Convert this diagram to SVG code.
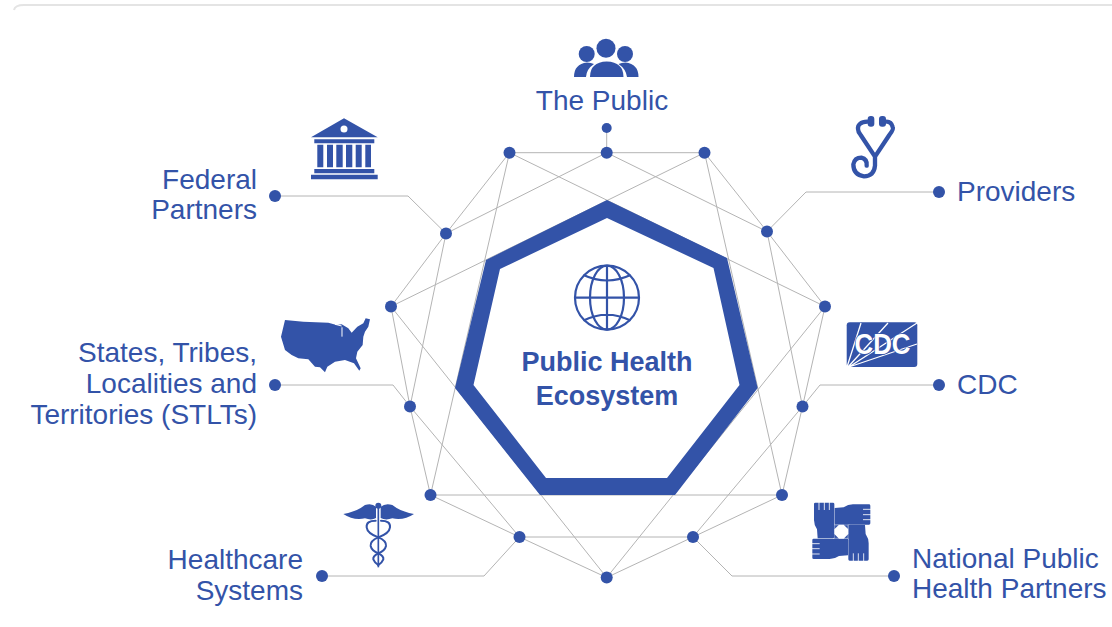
<svg xmlns="http://www.w3.org/2000/svg" width="1112" height="627" viewBox="0 0 1112 627">
<style>
text{font-family:"Liberation Sans",Arial,sans-serif;font-size:28px;fill:#3353a8}
.e{text-anchor:end}
.m{text-anchor:middle}
.b{font-weight:700;font-size:27px}
.l{stroke:#b4b4b4;stroke-width:1;fill:none}
.d{fill:#3353a8}
.f{fill:#3353a8}
.s{fill:none;stroke:#3353a8;stroke-linecap:round;stroke-linejoin:round}
</style>
<defs>
<g id="hand">
<path class="f" d="M57 42q0-4 4-4h53q4 0 4 4V104H132L118 118V145H68L66 118Q57 105 57 90Z"/>
<path d="M72 36V60M88 36V60M103 36V60" stroke="#fff" stroke-width="2.500" fill="none"/>
<path d="M119 100V146" stroke="#fff" stroke-width="1.200" fill="none"/>
</g>
</defs>
<rect width="1112" height="627" fill="#fff"/>
<path d="M14 10Q15 5 24 5H1112" fill="none" stroke="#e4e4e4" stroke-width="2"/>
<g id="connectors" class="l">
<path d="M509.5 152.7H704.5M509.5 152.7L446 233.5M509.5 152.7L430.5 495M509.5 152.7L825 306.5M606.7 152.7L446 233.5M606.7 152.7L767 231.5M704.5 152.7L391 306.5M704.5 152.7L767 231.5M704.5 152.7L782 495"/>
<path d="M446 233.5L391 306.5M446 233.5L410 406.5M767 231.5L825 306.5M767 231.5L802.5 406.5"/>
<path d="M391 306.5L410 406.5M391 306.5L606.7 577.5M825 306.5L802.5 406.5M825 306.5L606.7 577.5"/>
<path d="M410 406.5L430.5 495M410 406.5L519.5 537M802.5 406.5L782 495M802.5 406.5L693 537"/>
<path d="M430.5 495H782M430.5 495L519.5 537M782 495L693 537M519.5 537H693M519.5 537L606.7 577.5M693 537L606.7 577.5"/>
<path d="M606.7 128V152.7M939 192H806L767 231.5M275 196H408L446 233.5M939 385H820L802.5 406.5M275 385H393L410 406.5M322 576H484L519.5 537M894 576H732L693 537"/>
</g>
<g id="hub">
<path class="f" fill-rule="evenodd" d="M607 200L727 258L757.7 388L675 495H540L455 388L486 260ZM607 218L500 269L473.500 385L546 478H667L739.500 385L713.500 268Z"/>
<g fill="none" stroke="#3353a8" stroke-width="2.2">
<circle cx="607" cy="297.7" r="32"/>
<ellipse cx="607" cy="297.7" rx="17" ry="32"/>
<path d="M607 265.7V329.7M575 297.7H639M583.5 275Q607 286 630.500 275M583.500 320.500Q607 309 630.500 320.500"/>
</g>
<text class="m b" x="607" y="371">Public Health</text>
<text class="m b" x="607" y="405">Ecosystem</text>
</g>
<g id="the-public">
<circle class="d" cx="606.700" cy="128" r="5"/><circle class="d" cx="606.700" cy="152.700" r="6"/>
<circle class="f" cx="606" cy="48.300" r="9.500"/><circle class="f" cx="586.700" cy="54" r="8"/><circle class="f" cx="625" cy="54" r="8"/>
<path class="f" d="M590 77Q590 62 606.700 61.500Q623.500 62 623.500 77Z"/>
<path class="f" d="M574 77Q574 64 587 62.500Q591 62.500 594 64Q586.500 69 586 77Z"/>
<path class="f" d="M638.500 77Q638.500 64 625.500 62.500Q621.500 62.500 618.500 64Q626 69 627 77Z"/>
<text class="m" x="602" y="110">The Public</text>
</g>
<g id="providers">
<circle class="d" cx="939" cy="192" r="6"/><circle class="d" cx="767" cy="231.500" r="6"/>
<g transform="translate(830 105) scale(.3333)">
<rect class="f" x="113" y="33" width="20" height="32" rx="9"/><rect class="f" x="147" y="33" width="21" height="32" rx="9"/>
<path class="s" stroke-width="13" d="M112 50Q82 52 84 72Q84 80 92 90L135 155L178 90Q192 72 188 66Q184 50 170 50M135 155V182Q132 214 102 214Q70 210 70 178Q74 158 94 158Q112 162 110 182"/>
</g>
<text x="957" y="201">Providers</text>
</g>
<g id="cdc">
<circle class="d" cx="939" cy="385" r="6"/><circle class="d" cx="825" cy="306.500" r="6"/><circle class="d" cx="802.500" cy="406.500" r="6"/>
<rect class="f" x="846.700" y="322.300" width="70.600" height="44.700" rx="3"/>
<path d="M847 367L861 323M848 367L888 323M849 367L917 323M849 367L917 344" stroke="#fff" stroke-width="1.300" fill="none"/>
<text class="m" x="882.500" y="353.500" style="font-size:29px;font-weight:700;fill:#fff;stroke:#3353a8;stroke-width:1.500px;paint-order:stroke" textLength="56" lengthAdjust="spacingAndGlyphs">CDC</text>
<text x="957" y="394">CDC</text>
</g>
<g id="national-public-health-partners">
<circle class="d" cx="894" cy="576" r="6"/><circle class="d" cx="693" cy="537" r="6"/><circle class="d" cx="782" cy="495" r="6"/>
<g transform="translate(795 490) scale(.3333)">
<use href="#hand"/>
<use href="#hand" transform="rotate(90 139 125)"/>
<use href="#hand" transform="rotate(180 139 125)"/>
<use href="#hand" transform="rotate(270 139 125)"/>
</g>
<text x="912" y="568">National Public</text>
<text x="912" y="598">Health Partners</text>
</g>
<g id="healthcare-systems">
<circle class="d" cx="322" cy="576" r="6"/><circle class="d" cx="519.500" cy="537" r="6"/><circle class="d" cx="430.500" cy="495" r="6"/><circle class="d" cx="606.700" cy="577.500" r="6"/>
<g transform="translate(330 490) scale(.3333)">
<circle class="f" cx="145" cy="47" r="9"/>
<path class="f" d="M40 72Q80 65 105 45Q125 38 138 50V84Q125 92 105 85Q70 92 40 72Z"/>
<path class="f" d="M252 72Q212 65 187 45Q167 38 152 50V84Q167 92 187 85Q222 92 252 72Z"/>
<path d="M145 50V232" stroke="#3353a8" stroke-width="5" fill="none"/>
<path class="s" stroke-width="6" d="M137 92Q108 92 110 112Q112 130 145 142Q170 152 168 168Q165 182 145 190Q128 198 130 208Q135 220 145 225"/>
<path class="s" stroke-width="6" d="M153 92Q182 92 180 112Q178 130 145 142Q120 152 122 168Q125 182 145 190Q162 198 160 208Q155 220 145 225"/>
</g>
<text class="e" x="303" y="569">Healthcare</text>
<text class="e" x="303" y="600">Systems</text>
</g>
<g id="stlts">
<circle class="d" cx="275" cy="385" r="6"/><circle class="d" cx="391" cy="306.500" r="6"/><circle class="d" cx="410" cy="406.500" r="6"/>
<g transform="translate(270 110) scale(.3333)">
<path class="f" d="M45 630L100 635L175 638L200 645L215 643L235 655L245 668L262 650L280 640L287 625L300 628L295 650L285 665L280 680L278 705L262 725L258 745L272 775L268 782L252 760L225 750L195 755L172 770L165 787L150 772L135 770L115 748L85 745L65 735L45 720L33 680Z"/>
<path d="M216 652V680M195 643L215 648" stroke="#fff" stroke-width="3" fill="none"/>
</g>
<text class="e" x="257" y="362">States, Tribes,</text>
<text class="e" x="257" y="393">Localities and</text>
<text class="e" x="257" y="424">Territories (STLTs)</text>
</g>
<g id="federal-partners">
<circle class="d" cx="275" cy="196" r="6"/><circle class="d" cx="446" cy="233.500" r="6"/><circle class="d" cx="509.500" cy="152.700" r="6"/><circle class="d" cx="704.500" cy="152.700" r="6"/>
<path class="f" d="M344 118.300L377.700 137.300H311ZM314.300 139.300H374.300V143.300H314.300ZM317.300 144.700H323.300V167.300H317.300ZM327 144.700H333V167.300H327ZM336.300 144.700H342.700V167.300H336.300ZM346 144.700H352.300V167.300H346ZM355.700 144.700H361.700V167.300H355.700ZM365.300 144.700H371V167.300H365.300ZM314.300 169H374.300V173.300H314.300ZM311 174.700H377.700V179.300H311Z"/>
<circle cx="344" cy="129" r="3.500" fill="#fff"/>
<text class="e" x="257" y="189">Federal</text>
<text class="e" x="257" y="219">Partners</text>
</g>
</svg>
